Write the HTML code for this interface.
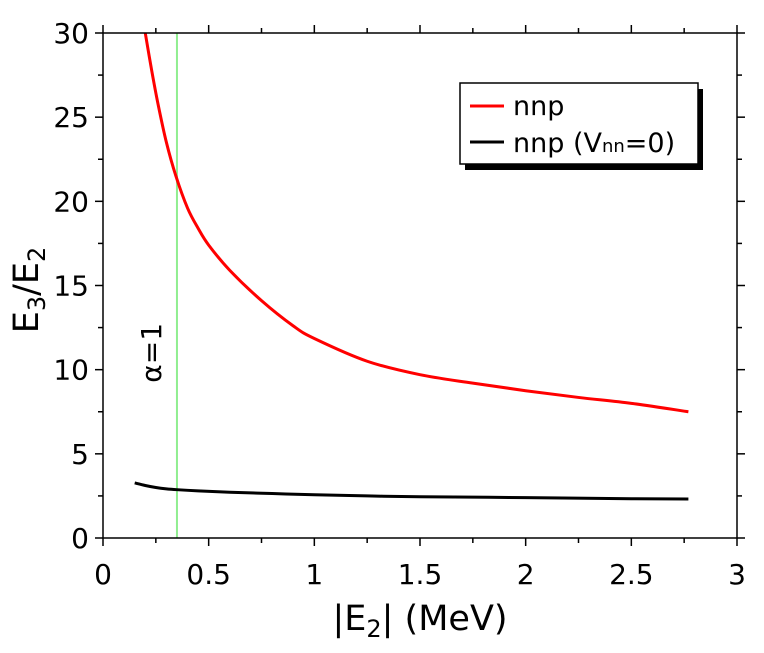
<!DOCTYPE html>
<html><head><meta charset="utf-8"><style>
body{margin:0;background:#fff}
svg text{font-family:"DejaVu Sans","Liberation Sans",sans-serif;fill:#000}
</style></head><body>
<svg id="chart" width="764" height="648" xmlns="http://www.w3.org/2000/svg"></svg>
<script>
const xTicks=[0,0.5,1,1.5,2,2.5,3];
const xTickLabels=["0","0.5","1","1.5","2","2.5","3"];
const yTicks=[0,5,10,15,20,25,30];
const yTickLabels=["0","5","10","15","20","25","30"];
const nnpX=[0.2,0.23,0.26,0.3,0.345,0.4,0.45,0.5,0.6,0.75,0.9,1.0,1.25,1.5,1.75,2.0,2.25,2.5,2.77];
const nnpY=[30,27.8,25.8,23.5,21.5,19.6,18.4,17.4,15.9,14.1,12.6,11.85,10.5,9.7,9.2,8.75,8.35,8.0,7.5];
const vnnX=[0.15,0.2,0.25,0.3,0.35,0.45,0.6,0.8,1.0,1.25,1.5,2.0,2.5,2.77];
const vnnY=[3.27,3.12,3.0,2.92,2.87,2.8,2.72,2.64,2.57,2.5,2.45,2.4,2.33,2.32];
const alphaX=0.35;
const L=103,R=737,T=33,B=538;
const xs=v=>L+(v-0)/3*(R-L);
const ys=v=>B-(v-0)/30*(B-T);
const svg=document.getElementById('chart');
const NS='http://www.w3.org/2000/svg';
function mk(tag,attrs,parent){const e=document.createElementNS(NS,tag);for(const k in attrs)e.setAttribute(k,attrs[k]);(parent||svg).appendChild(e);return e;}
let g=mk('line',{x1:xs(alphaX),x2:xs(alphaX),y1:T,y2:B,stroke:'#90ee90','stroke-width':2});


let at=mk('text',{x:0,y:0,'font-size':28,'text-anchor':'middle',transform:`translate(${xs(alphaX)-16},${ys(11)}) rotate(-90)`});
at.textContent='α=1';


function smooth(X,Y){const P=X.map((x,i)=>[xs(x),ys(Y[i])]);let d='M'+P[0][0]+','+P[0][1];
for(let i=0;i<P.length-1;i++){const p0=P[Math.max(0,i-1)],p1=P[i],p2=P[i+1],p3=P[Math.min(P.length-1,i+2)];
const c1=[p1[0]+(p2[0]-p0[0])/6,p1[1]+(p2[1]-p0[1])/6],c2=[p2[0]-(p3[0]-p1[0])/6,p2[1]-(p3[1]-p1[1])/6];
d+=` C${c1[0]},${c1[1]} ${c2[0]},${c2[1]} ${p2[0]},${p2[1]}`;}return d;}
function series(X,Y,color,name){const p=mk('path',{d:smooth(X,Y),fill:'none',stroke:color,'stroke-width':3});

}
series(nnpX,nnpY,'#ff0000','nnp-line');
series(vnnX,vnnY,'#000000','nnp-vnn0-line');
let fr=mk('rect',{x:L,y:T,width:R-L,height:B-T,fill:'none',stroke:'#000','stroke-width':1.5});


for(let i=0;i<=12;i++){const v=i*0.25,x=xs(v),len=i%2?5:8;
mk('line',{x1:x,x2:x,y1:B,y2:B+len,stroke:'#000','stroke-width':1.5});
mk('line',{x1:x,x2:x,y1:T,y2:T-len,stroke:'#000','stroke-width':1.5});}
xTicks.forEach((v,i)=>{const t=mk('text',{x:xs(v),y:584,'font-size':28,'text-anchor':'middle'});t.textContent=xTickLabels[i];

});
for(let i=0;i<=12;i++){const v=i*2.5,y=ys(v),len=i%2?5:8;
mk('line',{x1:L,x2:L-len,y1:y,y2:y,stroke:'#000','stroke-width':1.5});
mk('line',{x1:R,x2:R+len,y1:y,y2:y,stroke:'#000','stroke-width':1.5});}
yTicks.forEach((v,i)=>{const t=mk('text',{x:89,y:ys(v)+10,'font-size':28,'text-anchor':'end'});t.textContent=yTickLabels[i];

});
</script>
<svg width="764" height="648" style="position:absolute;left:0;top:0" xmlns="http://www.w3.org/2000/svg">
<text x="420" y="630" font-size="35" text-anchor="middle">|E<tspan font-size="24" dy="7">2</tspan><tspan dy="-7">| (MeV)</tspan></text>
<text transform="translate(38,290) rotate(-90)" font-size="35" text-anchor="middle">E<tspan font-size="24" dy="7">3</tspan><tspan dy="-7">/E</tspan><tspan font-size="24" dy="7">2</tspan></text>
<g>
<rect x="465" y="89" width="238" height="81" fill="#000"/>
<rect x="460" y="83" width="238" height="81" fill="#fff" stroke="#000" stroke-width="1.5"/>
<line x1="470" x2="504" y1="106" y2="106" stroke="#ff0000" stroke-width="3"/>
<text x="513" y="115" font-size="27">nnp</text>
<line x1="470" x2="504" y1="142" y2="142" stroke="#000" stroke-width="3"/>
<text x="513" y="152" font-size="27">nnp (V<tspan font-size="18">nn</tspan>=0)</text>
</g>
</svg>
</body></html>
